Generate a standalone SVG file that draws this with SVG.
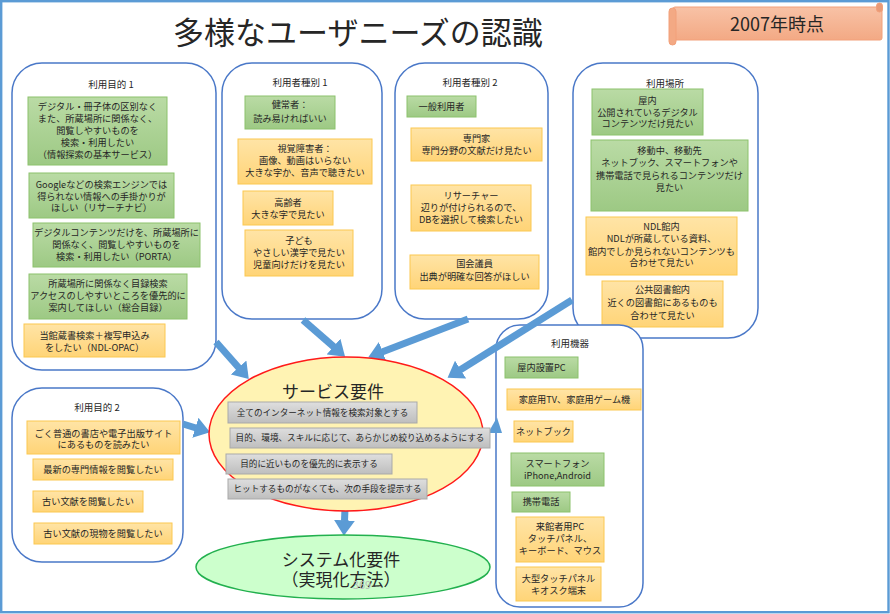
<svg xmlns="http://www.w3.org/2000/svg" width="890" height="614" viewBox="0 0 890 614">
<defs>
<linearGradient id="gg" x1="0" y1="0" x2="0" y2="1"><stop offset="0" stop-color="#BADBA5"/><stop offset="1" stop-color="#9DC984"/></linearGradient>
<linearGradient id="og" x1="0" y1="0" x2="0" y2="1"><stop offset="0" stop-color="#FFE4A6"/><stop offset="1" stop-color="#FFD477"/></linearGradient>
<linearGradient id="gy" x1="0" y1="0" x2="0" y2="1"><stop offset="0" stop-color="#DEDEDE"/><stop offset="1" stop-color="#BEBEBE"/></linearGradient>
<linearGradient id="sg" x1="0" y1="0" x2="0" y2="1"><stop offset="0" stop-color="#F8C2A6"/><stop offset="1" stop-color="#F3A984"/></linearGradient>
<marker id="ah" viewBox="0 0 2.2 3" refX="0.1" refY="1.5" markerWidth="2.2" markerHeight="3" orient="auto" markerUnits="strokeWidth"><path d="M0,0 L2.2,1.5 L0,3 z" fill="#5B9BD5"/></marker>
</defs>
<style>
text{font-family:"Noto Sans CJK JP","Noto Sans",sans-serif;fill:#262626}
.box{fill:#fff;stroke:#4A78C8;stroke-width:1.5}
.g{fill:url(#gg);stroke:#8CC26C;stroke-width:1}
.o{fill:url(#og);stroke:#FBC850;stroke-width:1}
.bar{fill:url(#gy);stroke:#A9A9A9;stroke-width:1}
.t{font-size:9.2px;text-anchor:middle}
.bt{font-size:8.6px;text-anchor:middle}
.lbl{font-size:9.5px;text-anchor:middle}
.arr{stroke:#5B9BD5;stroke-width:7;fill:none;marker-end:url(#ah)}
</style>
<rect x="0" y="0" width="890" height="614" fill="#fff"/>
<rect x="1.2" y="1.2" width="887.3" height="611" fill="none" stroke="#5B9BD5" stroke-width="2.4"/>

<g id="title"><text x="173" y="44" font-size="31">多様なユーザニーズの認識</text></g>

<g id="banner">
<rect x="673" y="7" width="209" height="33" rx="2" fill="url(#sg)" stroke="#F2A07A" stroke-width="1"/>
<rect x="669" y="8" width="7" height="37" rx="3.5" fill="#F3A984" stroke="#F2A07A" stroke-width="1"/>
<rect x="876.5" y="3" width="6" height="9" rx="3" fill="#E99A77" stroke="#F2A07A" stroke-width="1"/>
<text x="777" y="31" font-size="18" text-anchor="middle">2007年時点</text>
</g>

<g id="purpose1">
<rect class="box" x="12" y="63" width="204" height="307" rx="30"/>
<text class="lbl" x="111" y="88">利用目的 1</text>
<rect class="g" x="28" y="97" width="139" height="68"/>
<text class="t" x="97.5" y="110">デジタル・冊子体の区別なく</text>
<text class="t" x="97.5" y="122">また、所蔵場所に関係なく、</text>
<text class="t" x="97.5" y="134">閲覧しやすいものを</text>
<text class="t" x="97.5" y="146">検索・利用したい</text>
<text class="t" x="97.5" y="158">（情報探索の基本サービス）</text>
<rect class="g" x="29" y="173" width="145" height="45"/>
<text class="t" x="101.5" y="188">Googleなどの検索エンジンでは</text>
<text class="t" x="101.5" y="200">得られない情報への手掛かりが</text>
<text class="t" x="101.5" y="211">ほしい（リサーチナビ）</text>
<rect class="g" x="33" y="223" width="167" height="44"/>
<text class="t" x="116.5" y="236">デジタルコンテンツだけを、所蔵場所に</text>
<text class="t" x="116.5" y="248">関係なく、閲覧しやすいものを</text>
<text class="t" x="116.5" y="260">検索・利用したい（PORTA）</text>
<rect class="g" x="29" y="274" width="158" height="45"/>
<text class="t" x="108" y="287">所蔵場所に関係なく目録検索</text>
<text class="t" x="108" y="299">アクセスのしやすいところを優先的に</text>
<text class="t" x="108" y="311">案内してほしい（総合目録）</text>
<rect class="o" x="24" y="324" width="141" height="33"/>
<text class="t" x="94.5" y="339">当館蔵書検索＋複写申込み</text>
<text class="t" x="94.5" y="351">をしたい（NDL-OPAC）</text>
</g>

<g id="usertype1">
<rect class="box" x="222" y="63" width="160" height="256" rx="30"/>
<text class="lbl" x="300" y="86">利用者種別 1</text>
<rect class="g" x="245" y="96" width="90" height="33"/>
<text class="t" x="290" y="108">健常者：</text>
<text class="t" x="290" y="122">読み易ければいい</text>
<rect class="o" x="238" y="139" width="134" height="45"/>
<text class="t" x="305" y="152">視覚障害者：</text>
<text class="t" x="305" y="164">画像、動画はいらない</text>
<text class="t" x="305" y="176">大きな字か、音声で聴きたい</text>
<rect class="o" x="243" y="191" width="90" height="34"/>
<text class="t" x="288" y="206">高齢者</text>
<text class="t" x="288" y="218">大きな字で見たい</text>
<rect class="o" x="245" y="230" width="108" height="46"/>
<text class="t" x="299" y="244">子ども</text>
<text class="t" x="299" y="256">やさしい漢字で見たい</text>
<text class="t" x="299" y="268">児童向けだけを見たい</text>
</g>

<g id="usertype2">
<rect class="box" x="395" y="63" width="153" height="256" rx="30"/>
<text class="lbl" x="470" y="86">利用者種別 2</text>
<rect class="g" x="407" y="96" width="69" height="21"/>
<text class="t" x="441.5" y="110">一般利用者</text>
<rect class="o" x="411" y="128" width="131" height="33"/>
<text class="t" x="476.5" y="142">専門家</text>
<text class="t" x="476.5" y="154">専門分野の文献だけ見たい</text>
<rect class="o" x="411" y="185" width="120" height="46"/>
<text class="t" x="471" y="199">リサーチャー</text>
<text class="t" x="471" y="211">辺りが付けられるので、</text>
<text class="t" x="471" y="223">DBを選択して検索したい</text>
<rect class="o" x="410" y="255" width="129" height="34"/>
<text class="t" x="474.5" y="267">国会議員</text>
<text class="t" x="474.5" y="280">出典が明確な回答がほしい</text>
</g>

<g id="place">
<rect class="box" x="573" y="63" width="185" height="275" rx="30"/>
<text class="lbl" x="665" y="87">利用場所</text>
<rect class="g" x="592" y="89" width="111" height="46"/>
<text class="t" x="647.5" y="104">屋内</text>
<text class="t" x="647.5" y="116">公開されているデジタル</text>
<text class="t" x="647.5" y="127">コンテンツだけ見たい</text>
<rect class="g" x="591" y="140" width="157" height="71"/>
<text class="t" x="669.5" y="154">移動中、移動先</text>
<text class="t" x="669.5" y="166">ネットブック、スマートフォンや</text>
<text class="t" x="669.5" y="179">携帯電話で見られるコンテンツだけ</text>
<text class="t" x="669.5" y="191">見たい</text>
<rect class="o" x="586" y="217" width="151" height="58"/>
<text class="t" x="661.5" y="230">NDL館内</text>
<text class="t" x="661.5" y="242">NDLが所蔵している資料、</text>
<text class="t" x="661.5" y="255">館内でしか見られないコンテンツも</text>
<text class="t" x="661.5" y="266">合わせて見たい</text>
<rect class="o" x="602" y="281" width="121" height="46"/>
<text class="t" x="662.5" y="293">公共図書館内</text>
<text class="t" x="662.5" y="306">近くの図書館にあるものも</text>
<text class="t" x="662.5" y="319">合わせて見たい</text>
</g>

<g id="purpose2">
<rect class="box" x="12" y="388" width="171" height="174" rx="30"/>
<text class="lbl" x="97" y="411">利用目的 2</text>
<rect class="o" x="27" y="421" width="153" height="33"/>
<text class="t" x="103.5" y="436.5">ごく普通の書店や電子出版サイト</text>
<text class="t" x="103.5" y="447.5">にあるものを読みたい</text>
<rect class="o" x="33" y="459" width="140" height="21"/>
<text class="t" x="103" y="473">最新の専門情報を閲覧したい</text>
<rect class="o" x="33" y="491" width="110" height="21"/>
<text class="t" x="88" y="505">古い文献を閲覧したい</text>
<rect class="o" x="34" y="523" width="138" height="21"/>
<text class="t" x="103" y="537">古い文献の現物を閲覧したい</text>
</g>

<g id="device">
<rect class="box" x="496" y="325" width="147" height="282" rx="24"/>
<text class="lbl" x="570" y="347">利用機器</text>
<rect class="g" x="505" y="357" width="73" height="21"/>
<text class="t" x="541.5" y="371">屋内設置PC</text>
<rect class="o" x="507" y="389" width="134" height="21"/>
<text class="t" x="574.5" y="403">家庭用TV、家庭用ゲーム機</text>
<rect class="o" x="514" y="421" width="59" height="21"/>
<text class="t" x="543.5" y="435">ネットブック</text>
<rect class="g" x="511" y="453" width="93" height="33"/>
<text class="t" x="557.5" y="467">スマートフォン</text>
<text class="t" x="557.5" y="479">iPhone,Android</text>
<rect class="g" x="512" y="492" width="58" height="20"/>
<text class="t" x="541" y="505">携帯電話</text>
<rect class="o" x="516" y="517" width="88" height="45"/>
<text class="t" x="560" y="530">来館者用PC</text>
<text class="t" x="560" y="542">タッチパネル、</text>
<text class="t" x="560" y="554">キーボード、マウス</text>
<rect class="o" x="516" y="567" width="85" height="34"/>
<text class="t" x="558.5" y="581.5">大型タッチパネル</text>
<text class="t" x="558.5" y="594">キオスク端末</text>
</g>

<g id="connectors">
<line class="arr" x1="216" y1="342" x2="239" y2="368"/>
<line class="arr" x1="303" y1="320" x2="334" y2="347"/>
<line class="arr" x1="468" y1="319" x2="382" y2="352"/>
<line class="arr" x1="572" y1="300" x2="460" y2="370"/>
<line class="arr" x1="183" y1="424" x2="196" y2="428"/>
<polygon points="488,433 497,417.5 502,433" fill="#5B9BD5"/>
<line class="arr" x1="345" y1="509" x2="344.5" y2="521"/>
</g>

<g id="service">
<ellipse cx="346" cy="434" rx="137" ry="77" fill="#FFF3B3" stroke="#FF1A1A" stroke-width="1.5"/>
<text x="333" y="398" font-size="17" text-anchor="middle">サービス要件</text>
<rect class="bar" x="228" y="402" width="189" height="21"/>
<text class="bt" x="322.5" y="415.5">全てのインターネット情報を検索対象とする</text>
<rect class="bar" x="230" y="428" width="260" height="20"/>
<text class="bt" x="360" y="441">目的、環境、スキルに応じて、あらかじめ絞り込めるようにする</text>
<rect class="bar" x="226" y="454" width="166" height="20"/>
<text class="bt" x="309" y="467">目的に近いものを優先的に表示する</text>
<rect class="bar" x="228" y="479" width="199" height="20"/>
<text class="bt" x="327.5" y="492">ヒットするものがなくても、次の手段を提示する</text>
</g>

<g id="system">
<ellipse cx="343" cy="567" rx="147" ry="32" fill="#CCFFCC" stroke="#22B04E" stroke-width="1.5"/>
<text x="341" y="566" font-size="17" text-anchor="middle">システム化要件</text>
<text x="341" y="586" font-size="17" text-anchor="middle">（実現化方法）</text>
<text x="362" y="589" font-size="11" text-anchor="middle" style="fill:#BBBBBB">369</text>
</g>
</svg>
